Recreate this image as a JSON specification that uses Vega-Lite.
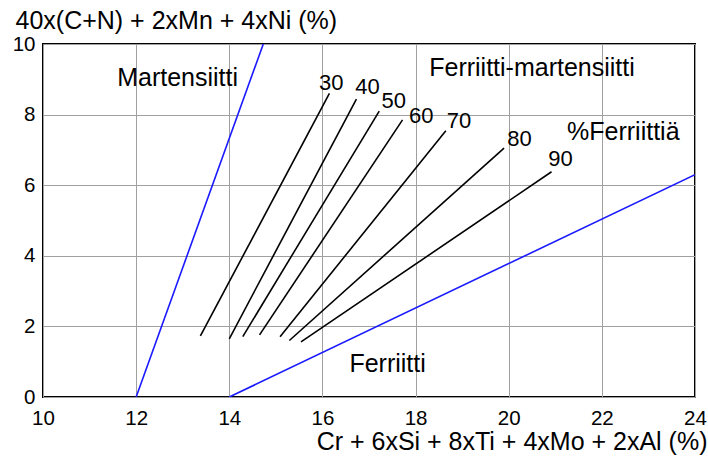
{
  "$schema": "https://vega.github.io/schema/vega-lite/v6.json",
  "width": 652,
  "height": 353,
  "autosize": {"type": "none"},
  "padding": {"left": 43, "top": 44, "right": 13, "bottom": 62},
  "background": "white",
  "config": {
    "font": "Liberation Sans",
    "view": {"stroke": "black", "strokeWidth": 2},
    "axis": {
      "grid": true,
      "gridColor": "#a0a0a0",
      "gridWidth": 1,
      "ticks": false,
      "domain": false,
      "labelFlush": false,
      "labelOverlap": false,
      "labelFont": "Liberation Sans",
      "labelFontSize": 20.5,
      "labelColor": "black",
      "titleFont": "Liberation Sans",
      "titleFontSize": 25,
      "titleFontWeight": "normal",
      "titleColor": "black"
    }
  },
  "datasets": {
    "lines": [
      {"series": "m", "kind": "boundary", "x": 12, "y": 0},
      {"series": "m", "kind": "boundary", "x": 14.73, "y": 10},
      {"series": "f", "kind": "boundary", "x": 14, "y": 0},
      {"series": "f", "kind": "boundary", "x": 24, "y": 6.3},
      {"series": "30", "kind": "ferrite", "x": 13.38, "y": 1.73},
      {"series": "30", "kind": "ferrite", "x": 16.15, "y": 8.6},
      {"series": "40", "kind": "ferrite", "x": 14.0, "y": 1.65},
      {"series": "40", "kind": "ferrite", "x": 16.73, "y": 8.44},
      {"series": "50", "kind": "ferrite", "x": 14.29, "y": 1.71},
      {"series": "50", "kind": "ferrite", "x": 17.22, "y": 8.1},
      {"series": "60", "kind": "ferrite", "x": 14.65, "y": 1.76},
      {"series": "60", "kind": "ferrite", "x": 17.72, "y": 7.85},
      {"series": "70", "kind": "ferrite", "x": 15.09, "y": 1.71},
      {"series": "70", "kind": "ferrite", "x": 18.65, "y": 7.54},
      {"series": "80", "kind": "ferrite", "x": 15.29, "y": 1.6},
      {"series": "80", "kind": "ferrite", "x": 19.9, "y": 7.05},
      {"series": "90", "kind": "ferrite", "x": 15.54, "y": 1.56},
      {"series": "90", "kind": "ferrite", "x": 20.92, "y": 6.38}
    ],
    "numbers": [
      {"text": "30", "x": 16.19, "y": 8.9},
      {"text": "40", "x": 16.97, "y": 8.77},
      {"text": "50", "x": 17.53, "y": 8.38},
      {"text": "60", "x": 18.12, "y": 7.96},
      {"text": "70", "x": 18.93, "y": 7.81},
      {"text": "80", "x": 20.23, "y": 7.32},
      {"text": "90", "x": 21.11, "y": 6.73}
    ],
    "regions": [
      {"text": "Martensiitti", "x": 12.89, "y": 9.04},
      {"text": "Ferriitti-martensiitti", "x": 20.5, "y": 9.32},
      {"text": "%Ferriittiä", "x": 22.46, "y": 7.51},
      {"text": "Ferriitti", "x": 17.4, "y": 0.93}
    ]
  },
  "layer": [
    {
      "data": {"name": "lines"},
      "mark": {"type": "line", "strokeWidth": 1.6, "clip": true},
      "encoding": {
        "x": {
          "field": "x", "type": "quantitative",
          "scale": {"domain": [10, 24], "nice": false, "zero": false},
          "axis": {
            "values": [10, 12, 14, 16, 18, 20, 22, 24],
            "labelPadding": 11,
            "title": "Cr + 6xSi + 8xTi + 4xMo + 2xAl (%)",
            "titleAnchor": "end",
            "titleAlign": "right",
            "titleX": 664,
            "titleY": 52,
            "titleBaseline": "alphabetic"
          }
        },
        "y": {
          "field": "y", "type": "quantitative",
          "scale": {"domain": [0, 10], "nice": false},
          "axis": {
            "values": [0, 2, 4, 6, 8, 10],
            "labelPadding": 8,
            "title": "40x(C+N) + 2xMn + 4xNi (%)",
            "titleAngle": 0,
            "titleAlign": "left",
            "titleBaseline": "alphabetic",
            "titleX": -28,
            "titleY": -16
          }
        },
        "detail": {"field": "series"},
        "color": {
          "field": "kind", "type": "nominal",
          "scale": {"domain": ["boundary", "ferrite"], "range": ["#1a1aff", "black"]},
          "legend": null
        }
      }
    },
    {
      "data": {"name": "numbers"},
      "mark": {"type": "text", "fontSize": 22, "font": "Liberation Sans", "color": "black", "align": "center", "baseline": "middle"},
      "encoding": {
        "x": {"field": "x", "type": "quantitative"},
        "y": {"field": "y", "type": "quantitative"},
        "text": {"field": "text"}
      }
    },
    {
      "data": {"name": "regions"},
      "mark": {"type": "text", "fontSize": 25, "font": "Liberation Sans", "color": "black", "align": "center", "baseline": "middle"},
      "encoding": {
        "x": {"field": "x", "type": "quantitative"},
        "y": {"field": "y", "type": "quantitative"},
        "text": {"field": "text"}
      }
    }
  ]
}
